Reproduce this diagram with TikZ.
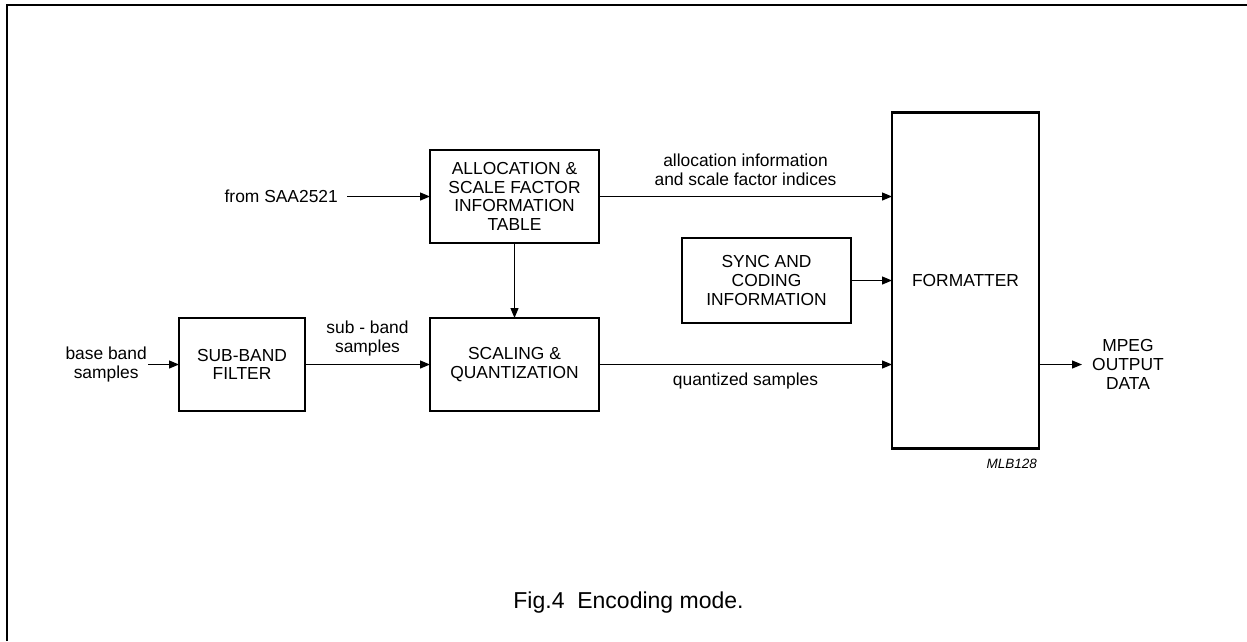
\documentclass[tikz,border=0pt]{standalone}
\usepackage{fontspec}
\setmainfont{Liberation Sans}
\usetikzlibrary{arrows.meta, positioning}

\begin{document}
\begin{tikzpicture}[
        x=1pt, y=-1pt,
        sigarrow/.style={-{Triangle[length=10pt, width=8pt]}, line width=1.2pt},
        blocknode/.style={draw, line width=2.8pt, outer sep=0pt, inner sep=0pt, align=center, font=\fontsize{17.4}{18.7}\selectfont},
        labelnode/.style={inner sep=0pt, align=center, font=\fontsize{17.4}{19}\selectfont}
    ]
        \useasboundingbox (0,0) rectangle (1247,641);

        % Frame
        \draw[line width=1.4pt] (7,641) -- (7,5) -- (1247,5);

        % Blocks
        \node[blocknode, minimum width=169pt, minimum height=93pt] (alloc) at (514.5,196.5) {ALLOCATION \&\\SCALE FACTOR\\INFORMATION\\TABLE};
        \node[blocknode, minimum width=169pt, minimum height=93pt, below=75pt of alloc] (scal) {SCALING \&\\QUANTIZATION};
        \node[blocknode, minimum width=126pt, minimum height=93pt, left=125pt of scal] (subband) {SUB-BAND\\FILTER};
        \node[blocknode, minimum width=169pt, minimum height=85pt] (sync) at (766.5,280.5) {SYNC AND\\CODING\\INFORMATION};
        \node[blocknode, minimum width=147pt, minimum height=336pt, right=41pt of sync] (fmt) {FORMATTER};

        % Inputs and output
        \node[labelnode, left=83pt of alloc, inner xsep=9pt] (saa) {from SAA2521};
        \node[labelnode, left=31pt of subband, inner xsep=1pt] (base) {base band\\samples};
        \node[labelnode, anchor=west, inner xsep=10pt, xshift=43pt] (mpeg) at (fmt.east |- scal.east) {MPEG\\OUTPUT\\DATA};

        % Arrows
        \draw[sigarrow] (saa.east) -- (alloc.west);
        \draw[sigarrow] (alloc.east) -- node[labelnode, above=10pt] (allocinfo) {allocation information\\and scale factor indices} (alloc.east -| fmt.west);
        \draw[sigarrow] (alloc) -- (scal);
        \draw[sigarrow] (subband.west -| base.east) -- (subband.west);
        \draw[sigarrow] (subband) -- node[labelnode, above=8pt] (subsamples) {sub - band\\samples} (scal);
        \draw[sigarrow] (scal.east) -- node[labelnode, below=7.5pt] (quantized) {quantized samples} (scal.east -| fmt.west);
        \draw[sigarrow] (sync) -- (fmt);
        \draw[sigarrow] (fmt.east |- mpeg.west) -- (mpeg.west);

        % Caption
        \node[font=\fontsize{13.5}{16}\selectfont\itshape, anchor=base east, inner sep=0pt] (code) at (1037,468) {MLB128};
        \node[font=\fontsize{23}{27}\selectfont, anchor=base, inner sep=0pt] (caption) at (628.5,608) {Fig.4~~Encoding mode.};
    \end{tikzpicture}
\end{document}
